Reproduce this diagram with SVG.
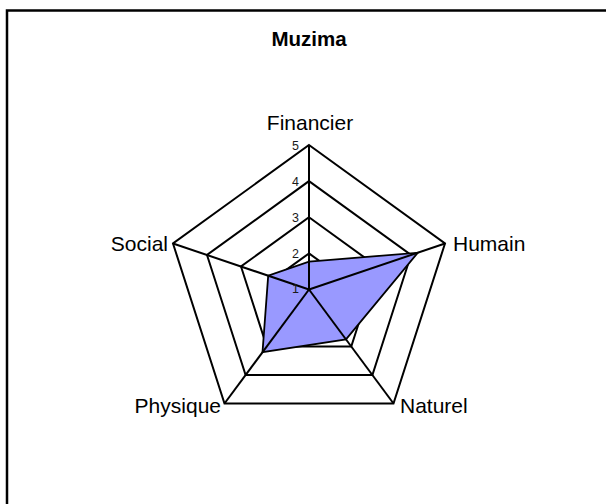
<svg xmlns="http://www.w3.org/2000/svg" width="606" height="504" viewBox="0 0 606 504">
<style>
.frame{fill:#fff;stroke:#000;stroke-width:2.5}
.ring{fill:none;stroke:#000;stroke-width:2;stroke-linejoin:miter}
.spoke{stroke:#000;stroke-width:2}
.data{fill:#9999ff;stroke:#000;stroke-width:1.8;stroke-linejoin:miter}
.lbl{font-family:"Liberation Sans",Arial,sans-serif;font-size:21px;fill:#000}
.tick{font-family:"Liberation Sans",Arial,sans-serif;font-size:12.5px;fill:#1a1a1a;text-anchor:end}
.title{font-family:"Liberation Sans",Arial,sans-serif;font-size:20.5px;font-weight:bold;fill:#000;text-anchor:middle}
</style>
<rect x="0" y="0" width="606" height="504" fill="#fff"/>
<rect class="frame" x="7" y="10.5" width="640" height="540"/>
<text class="title" x="309" y="46">Muzima</text>
<g id="grid">
<polygon class="ring" points="309,253.4 343,278 330.1,318 287.9,318 275,278"/>
<polygon class="ring" points="309,217.25 377,266.5 351.25,346.5 266.75,346.5 241,266.5"/>
<polygon class="ring" points="309,181.1 411,255 372.4,375 245.6,375 207,255"/>
<polygon class="ring" points="309,145 445,243.5 393.5,403.5 224.5,403.5 173,243.5"/>
</g>
<g id="series">
<polygon class="data" points="309,261.7 417.8,252.7 346,339.4 262.5,352.2 268.2,275.7"/>
</g>
<g id="connectors">
<line class="spoke" x1="309" y1="289.5" x2="309" y2="145"/>
<line class="spoke" x1="309" y1="289.5" x2="445" y2="243.5"/>
<line class="spoke" x1="309" y1="289.5" x2="393.5" y2="403.5"/>
<line class="spoke" x1="309" y1="289.5" x2="224.5" y2="403.5"/>
<line class="spoke" x1="309" y1="289.5" x2="173" y2="243.5"/>
</g>
<g id="ticks">
<text class="tick" x="299" y="150">5</text>
<text class="tick" x="299" y="186">4</text>
<text class="tick" x="299" y="222">3</text>
<text class="tick" x="299" y="258">2</text>
<text class="tick" x="299" y="293">1</text>
</g>
<g id="financier"><text class="lbl" x="310" y="130" text-anchor="middle">Financier</text></g>
<g id="humain"><text class="lbl" x="453" y="251">Humain</text></g>
<g id="naturel"><text class="lbl" x="400" y="413">Naturel</text></g>
<g id="physique"><text class="lbl" x="221" y="413" text-anchor="end">Physique</text></g>
<g id="social"><text class="lbl" x="168" y="251" text-anchor="end">Social</text></g>
</svg>
